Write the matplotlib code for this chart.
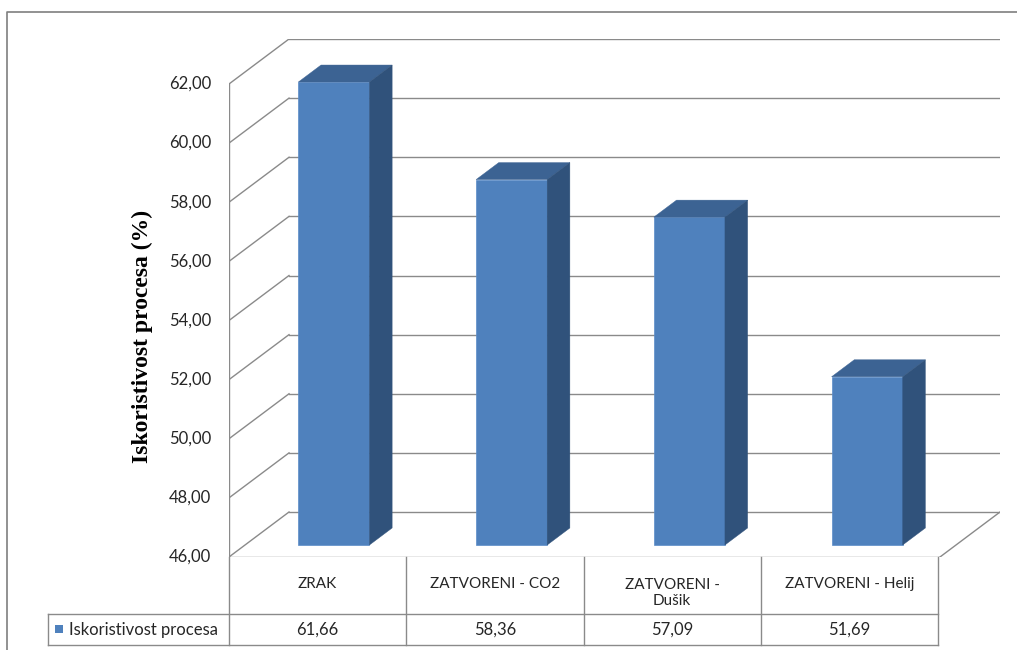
import matplotlib
matplotlib.use("Agg")
import matplotlib.pyplot as plt
from matplotlib.patches import Polygon, Rectangle
from matplotlib.lines import Line2D

# Data
categories = ["ZRAK", "ZATVORENI - CO2", "ZATVORENI -\nDušik", "ZATVORENI - Helij"]
values = [61.66, 58.36, 57.09, 51.69]
value_labels = ["61,66", "58,36", "57,09", "51,69"]
series_name = "Iskoristivost procesa"
y_ticks = [46, 48, 50, 52, 54, 56, 58, 60, 62]
y_min, y_max = 46, 62

W, H = 1017, 650
FRONT = "#4F81BD"
TOP = "#3C6393"
SIDE = "#30527B"
GRID = "#8A8A8A"
TXT = "#262626"
SANS = "Lato"

# oblique depth offset of the 3D box (in data units)
DX = 0.3376
DY = 1.522
F0, F1 = 0.267, 0.645   # bar front/back depth fractions
BW = 0.4                # bar width in category units

fig = plt.figure(figsize=(W / 100, H / 100), dpi=100)

# overlay in pixel coordinates: frame, data table, axis title
ov = fig.add_axes([0, 0, 1, 1])
ov.set_xlim(0, W)
ov.set_ylim(H, 0)
ov.axis("off")

# plot area
ax = fig.add_axes([229 / W, (H - 557) / H, (1000 - 229) / W, (557 - 39) / H])
ax.set_xlim(0, 4 + DX)
ax.set_ylim(y_min, y_max + DY)
ax.axis("off")

# walls: diagonals from front axis to back wall and back gridlines
n = len(categories)
ax.plot([0, 0], [y_min, y_max], color=GRID, lw=1.0, zorder=1)
for t in y_ticks:
    ax.plot([0, DX], [t, t + DY], color=GRID, lw=1.0, zorder=1)
    ax.plot([DX, n + DX], [t + DY, t + DY], color=GRID, lw=1.0, zorder=1)
    ax.text(-0.1, t, f"{t:.2f}".replace(".", ","), ha="right", va="center",
            fontsize=12, color=TXT, family=SANS)
# floor edges
ax.plot([0, n], [y_min, y_min], color=GRID, lw=1.0, zorder=1)
ax.plot([n, n + DX], [y_min, y_min + DY], color=GRID, lw=1.0, zorder=1)

# 3D columns
xs = [i + 0.5 for i in range(n)]
fx = [x + F0 * DX for x in xs]
ax.bar(fx, [v - y_min for v in values], bottom=y_min + F0 * DY, width=BW,
       color=FRONT, edgecolor="#5B8CC8", linewidth=0.5, zorder=3)
d = (F1 - F0)
for x, v in zip(fx, values):
    l, r = x - BW / 2, x + BW / 2
    top = v + F0 * DY
    bot = y_min + F0 * DY
    ax.add_patch(Polygon([(l, top), (r, top), (r + d * DX, top + d * DY),
                          (l + d * DX, top + d * DY)],
                         closed=True, facecolor=TOP, edgecolor=TOP, lw=0.3, zorder=3))
    ax.add_patch(Polygon([(r, bot), (r, top), (r + d * DX, top + d * DY),
                          (r + d * DX, bot + d * DY)],
                         closed=True, facecolor=SIDE, edgecolor=SIDE, lw=0.3, zorder=3))

# chart frame (extends past the image edge)
ov.add_line(Line2D([7, 7, W + 5], [H + 5, 12, 12], color="#7F7F7F", lw=1.2))

# data table
col_x = [229 + i * (938 - 229) / n for i in range(n + 1)]
row_top, row_mid, row_bot = 557, 614, 645
for cx in col_x:
    ov.add_line(Line2D([cx, cx], [row_top, row_bot], color=GRID, lw=1.0))
ov.add_line(Line2D([48, col_x[-1]], [row_mid, row_mid], color=GRID, lw=1.0))
ov.add_line(Line2D([48, col_x[-1]], [row_bot, row_bot], color=GRID, lw=1.0))
ov.add_line(Line2D([48, 48], [row_mid, row_bot], color=GRID, lw=1.0))
for i, (c, vl) in enumerate(zip(categories, value_labels)):
    cx = (col_x[i] + col_x[i + 1]) / 2
    ov.text(cx, 584 if "\n" not in c else 593, c, ha="center", va="center",
            fontsize=11, color=TXT, family=SANS, linespacing=1.2)
    ov.text(cx, (row_mid + row_bot) / 2, vl, ha="center", va="center",
            fontsize=12, color=TXT, family=SANS)
ov.add_patch(Rectangle((55, 625), 8, 8, facecolor=FRONT, edgecolor="none"))
ov.text(69, (row_mid + row_bot) / 2, series_name, ha="left", va="center",
        fontsize=12, color=TXT, family=SANS)

# axis title
ov.text(142, 336, "Iskoristivost procesa (%)", rotation=90, ha="center", va="center",
        fontsize=17, fontweight="bold", family="Liberation Serif", color="black")

fig.savefig("out.png", dpi=100, facecolor="white")
